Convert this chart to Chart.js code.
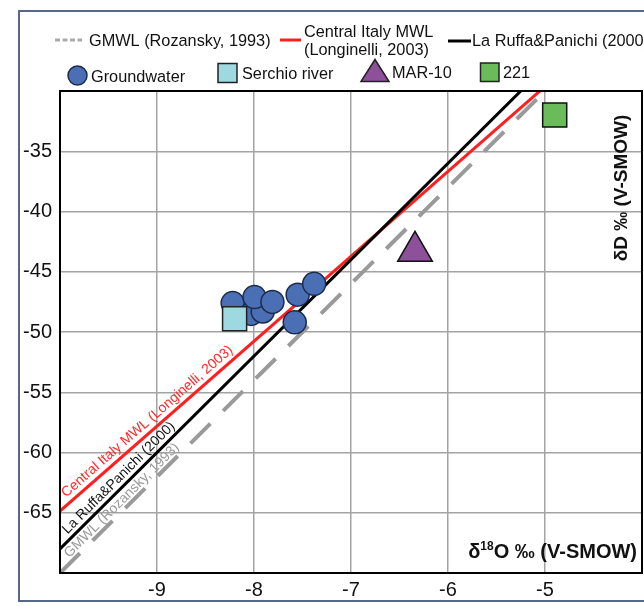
<!DOCTYPE html>
<html>
<head>
<meta charset="utf-8">
<script src="https://cdn.jsdelivr.net/npm/chart.js@4.4.0/dist/chart.umd.min.js"></script>
<style>
  html, body { margin: 0; padding: 0; background: #fff; overflow: hidden; }
  #wrap { width: 644px; height: 606px; position: relative; }
</style>
</head>
<body>
<div id="wrap"><canvas id="isoChart"></canvas></div>
<script>
// Water lines, given by their ends at the x-axis limits
const lineX = [-10, -4];
const gmwlY = [-70, -22];               // GMWL (Rozansky, 1993)
const centralItalyY = [-64.86, -22.58]; // Central Italy MWL (Longinelli, 2003)
const laRuffaY = [-68, -20];            // La Ruffa&Panichi (2000)

// Samples (d18O, dD)
const groundwaterX = [-8.22, -8.03, -7.91, -7.995, -7.81, -7.58, -7.55, -7.38];
const groundwaterY = [-47.6, -48.5, -48.3, -47.1, -47.5, -49.2, -46.9, -46.0];
const serchioX = [-8.2];
const serchioY = [-48.9];
const mar10X = [-6.34];
const mar10Y = [-43.3];
const s221X = [-4.9];
const s221Y = [-32.0];

const xTicks = [-9, -8, -7, -6, -5];
const yTicks = [-35, -40, -45, -50, -55, -60, -65];

const FONT = '"Liberation Sans", Arial, sans-serif';

const pts = (xs, ys) => xs.map((x, i) => ({ x: x, y: ys[i] }));

// Text along a line, starting near the left of the plot
const labelAlong = (chart, ys, text, color, startPx, offset) => {
  const ctx = chart.ctx;
  const sx = chart.scales.x, sy = chart.scales.y;
  const x0 = sx.getPixelForValue(lineX[0]), y0 = sy.getPixelForValue(ys[0]);
  const x1 = sx.getPixelForValue(lineX[1]), y1 = sy.getPixelForValue(ys[1]);
  const ang = Math.atan2(y1 - y0, x1 - x0);
  const px = chart.chartArea.left + startPx;
  const py = y0 + (px - x0) * (y1 - y0) / (x1 - x0);
  ctx.save();
  ctx.translate(px, py);
  ctx.rotate(ang);
  ctx.fillStyle = color;
  ctx.font = '14px ' + FONT;
  ctx.textAlign = 'left';
  ctx.textBaseline = 'alphabetic';
  ctx.fillText(text, 0, -offset);
  ctx.restore();
};

const extras = {
  id: 'extras',
  beforeDraw(chart) {
    const ctx = chart.ctx;
    ctx.save();
    ctx.strokeStyle = '#56678a';
    ctx.lineWidth = 2;
    ctx.strokeRect(19, 11, 640, 590);
    ctx.restore();
  },
  afterDatasetsDraw(chart) {
    const ctx = chart.ctx;
    const a = chart.chartArea;
    ctx.save();
    ctx.strokeStyle = '#000';
    ctx.lineWidth = 2;
    ctx.strokeRect(a.left, a.top, a.right - a.left, a.bottom - a.top);
    ctx.restore();

    labelAlong(chart, centralItalyY, 'Central Italy MWL (Longinelli, 2003)', '#ff2a2a', 10, 6);
    labelAlong(chart, laRuffaY, 'La Ruffa&Panichi (2000)', '#111', 11, 5);
    labelAlong(chart, gmwlY, 'GMWL (Rozansky, 1993)', '#999', 12, 4);
  },
  afterDraw(chart) {
    const ctx = chart.ctx;
    ctx.save();

    // axis titles
    ctx.fillStyle = '#111';
    ctx.font = 'bold 20px ' + FONT;
    ctx.textBaseline = 'alphabetic';
    const rest = 'O \u2030 (V-SMOW)';
    const wD = ctx.measureText('\u03b4').width;
    const wR = ctx.measureText(rest).width;
    ctx.font = 'bold 12px ' + FONT;
    const wS = ctx.measureText('18').width;
    let tx = 637 - wR - wS - wD;
    ctx.font = 'bold 20px ' + FONT;
    ctx.textAlign = 'left';
    ctx.fillText('\u03b4', tx, 558);
    ctx.font = 'bold 12px ' + FONT;
    ctx.fillText('18', tx + wD, 550);
    ctx.font = 'bold 20px ' + FONT;
    ctx.fillText(rest, tx + wD + wS, 558);

    ctx.save();
    ctx.translate(622, 188);
    ctx.rotate(-Math.PI / 2);
    ctx.font = 'bold 19px ' + FONT;
    ctx.textAlign = 'center';
    ctx.textBaseline = 'middle';
    ctx.fillText('\u03b4D \u2030 (V-SMOW)', 0, 0);
    ctx.restore();

    // legend
    ctx.font = '16.3px ' + FONT;
    ctx.textAlign = 'left';
    ctx.textBaseline = 'middle';
    ctx.lineCap = 'butt';

    ctx.strokeStyle = '#aaa';
    ctx.lineWidth = 3;
    ctx.setLineDash([5, 2.5]);
    ctx.beginPath(); ctx.moveTo(55, 40); ctx.lineTo(82, 40); ctx.stroke();
    ctx.setLineDash([]);
    ctx.fillStyle = '#111';
    ctx.fillText('GMWL (Rozansky, 1993)', 89, 42);

    ctx.strokeStyle = '#ff2020';
    ctx.beginPath(); ctx.moveTo(280, 40); ctx.lineTo(301, 40); ctx.stroke();
    ctx.fillText('Central Italy MWL', 304, 33);
    ctx.fillText('(Longinelli, 2003)', 304, 51);

    ctx.strokeStyle = '#000';
    ctx.beginPath(); ctx.moveTo(448, 41); ctx.lineTo(471, 41); ctx.stroke();
    ctx.fillText('La Ruffa&Panichi (2000)', 472, 42);

    ctx.lineWidth = 1.5;
    ctx.fillStyle = '#4a6fb5';
    ctx.strokeStyle = '#1c2b4a';
    ctx.beginPath(); ctx.arc(77.5, 75.5, 9.5, 0, Math.PI * 2); ctx.fill(); ctx.stroke();
    ctx.fillStyle = '#9ed8e0';
    ctx.strokeStyle = '#222';
    ctx.fillRect(218, 63.5, 19, 19); ctx.strokeRect(218, 63.5, 19, 19);
    ctx.fillStyle = '#8e4f9b';
    ctx.beginPath(); ctx.moveTo(375, 59.5); ctx.lineTo(389, 81.5); ctx.lineTo(361, 81.5); ctx.closePath();
    ctx.fill(); ctx.stroke();
    ctx.fillStyle = '#6abb5a';
    ctx.fillRect(480.5, 63, 18.5, 18.5); ctx.strokeRect(480.5, 63, 18.5, 18.5);

    ctx.fillStyle = '#111';
    ctx.fillText('Groundwater', 91, 78);
    ctx.fillText('Serchio river', 242, 75);
    ctx.fillText('MAR-10', 392, 74);
    ctx.fillText('221', 503, 74);

    ctx.restore();
  }
};

const lineSet = (ys, color, dash, width) => ({
  type: 'line',
  data: pts(lineX, ys),
  borderColor: color,
  borderWidth: width,
  borderDash: dash,
  pointRadius: 0,
  fill: false,
  clip: 0,
  order: 10
});

new Chart(document.getElementById('isoChart'), {
  type: 'scatter',
  data: {
    datasets: [
      lineSet(gmwlY, '#9a9a9a', [28, 18], 4),
      lineSet(laRuffaY, '#000', [], 3),
      lineSet(centralItalyY, '#ff1f1f', [], 3),
      {
        label: 'Groundwater',
        data: pts(groundwaterX, groundwaterY),
        pointStyle: 'circle',
        pointRadius: 11.5,
        backgroundColor: '#4a6fb5',
        borderColor: '#1c2b4a',
        borderWidth: 1.5,
        order: 3
      },
      {
        label: 'Serchio river',
        data: pts(serchioX, serchioY),
        pointStyle: 'rect',
        pointRadius: 17,
        backgroundColor: '#9ed8e0',
        borderColor: '#222',
        borderWidth: 1.5,
        order: 2
      },
      {
        label: 'MAR-10',
        data: pts(mar10X, mar10Y),
        pointStyle: 'triangle',
        pointRadius: 20,
        backgroundColor: '#8e4f9b',
        borderColor: '#111',
        borderWidth: 1.5,
        order: 1
      },
      {
        label: '221',
        data: pts(s221X, s221Y),
        pointStyle: 'rect',
        pointRadius: 17,
        backgroundColor: '#6abb5a',
        borderColor: '#111',
        borderWidth: 1.5,
        order: 1
      }
    ]
  },
  options: {
    responsive: true,
    maintainAspectRatio: false,
    animation: false,
    devicePixelRatio: 1,
    layout: { autoPadding: false, padding: { top: 91, right: 2, left: 0, bottom: 0 } },
    plugins: { legend: { display: false }, tooltip: { enabled: false } },
    scales: {
      x: {
        type: 'linear',
        min: -10,
        max: -4,
        afterBuildTicks: (s) => { s.ticks = xTicks.map(v => ({ value: v })); },
        afterFit: (s) => { s.height = 33; s.paddingLeft = 0; s.paddingRight = 0; },
        grid: { color: '#a3a3a3', lineWidth: 1.5, drawTicks: false },
        border: { display: false },
        ticks: { font: { size: 20, family: FONT }, color: '#111', padding: 5, maxRotation: 0 }
      },
      y: {
        type: 'linear',
        min: -70,
        max: -30,
        afterBuildTicks: (s) => { s.ticks = yTicks.map(v => ({ value: v })); },
        afterFit: (s) => { s.width = 60; s.paddingTop = 0; s.paddingBottom = 0; },
        grid: { color: '#a3a3a3', lineWidth: 1.5, drawTicks: false },
        border: { display: false },
        ticks: { font: { size: 20, family: FONT }, color: '#111', padding: 8 }
      }
    }
  },
  plugins: [extras]
});
</script>
</body>
</html>
